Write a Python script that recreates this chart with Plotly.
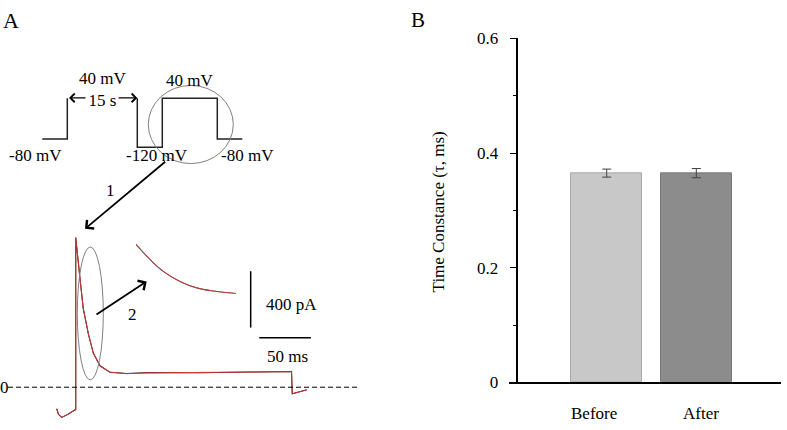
import plotly.graph_objects as go

W, H = 787, 430
FONT = "Liberation Serif"

# ---------------- Panel B data ----------------
conditions = ["Before", "After"]
tau_ms = [0.365, 0.365]
tau_sem = [0.007, 0.008]
bar_fill = ["#c8c8c8", "#8c8c8c"]
bar_edge = ["#a8a8a8", "#7a7a7a"]

# ---------------- Panel A data ----------------
# voltage protocol (schematic): time in schematic units, level: 0=-80 mV, 1=+40 mV, -0.2=-120 mV
protocol_t = [0, 1, 1, None, 3.8, 3.8, 4.8, 4.8, 7, 7, 8]
protocol_level = [0, 0, 1, None, 1, -0.2, -0.2, 1, 1, 0, 0]

# current traces (ms, pA)
trace_t = [0, 1.7, 4.8, 10.9, 17.7, 18.4, 18.4, 19.6, 20.6, 22.5, 25.7, 30.6, 35.4,
           41.9, 51.5, 67.7, 90.2, 138.7, 187.0, 227.1, 227.8, 229.5, 233.4, 241.8]
before_pa = [-153, -192, -214, -192, -160, -160, 1060, 988, 906, 771, 559, 378, 242,
             152, 106, 97, 104, 103, 108, 111, -47, -43, -33, -18]
after_pa = [-153, -192, -214, -192, -160, -160, 1062, 990, 904, 775, 555, 380, 240,
            150, 107, 96, 102, 104, 107, 110, -47, -44, -33, -19]

# magnified decay inset (relative time ms, current above steady state, pA)
inset_t = [0, 1.4, 2.73, 4.4, 6.07, 7.73, 10]
inset_pa = [523, 363, 237, 130, 63, 30, 3]


def px(x):
    return x / W


def py(y):
    return 1 - y / H


fig = go.Figure()

# Panel B bars
fig.add_trace(go.Bar(
    x=conditions, y=tau_ms, width=0.798,
    marker=dict(color=bar_fill, line=dict(color=bar_edge, width=1)),
    error_y=dict(type="data", array=tau_sem, visible=True, color="#404040",
                 thickness=1, width=4.5),
    xaxis="x", yaxis="y", showlegend=False, hoverinfo="skip"))

# Panel A protocol
fig.add_trace(go.Scatter(
    x=protocol_t, y=protocol_level, mode="lines",
    line=dict(color="#222222", width=1.5), connectgaps=False,
    xaxis="x3", yaxis="y3", showlegend=False, hoverinfo="skip"))

# Panel A current traces
fig.add_trace(go.Scatter(
    x=trace_t, y=before_pa, mode="lines", line=dict(color="#1a1a1a", width=1.1),
    xaxis="x2", yaxis="y2", showlegend=False, hoverinfo="skip"))
fig.add_trace(go.Scatter(
    x=trace_t, y=after_pa, mode="lines", line=dict(color="rgb(210,55,55)", width=1.0),
    xaxis="x2", yaxis="y2", showlegend=False, hoverinfo="skip"))

# Inset
fig.add_trace(go.Scatter(
    x=inset_t, y=inset_pa, mode="lines", line=dict(color="#555555", width=1.1, shape="spline"),
    xaxis="x4", yaxis="y4", showlegend=False, hoverinfo="skip"))
fig.add_trace(go.Scatter(
    x=inset_t, y=inset_pa, mode="lines", line=dict(color="rgb(210,55,55)", width=0.9, shape="spline"),
    xaxis="x4", yaxis="y4", showlegend=False, hoverinfo="skip"))

hidden = dict(visible=False, showgrid=False, zeroline=False, fixedrange=True)

# trace axis mapping (ms / pA)
T0_PX, ZERO_PX, PX_PER_MS, PX_PER_PA = 56.7, 395.7, 1.034, 0.1475
x2_range = [(0 - T0_PX) / PX_PER_MS, (400 - T0_PX) / PX_PER_MS]
y2_range = [(ZERO_PX - H) / PX_PER_PA, ZERO_PX / PX_PER_PA]
# protocol axis mapping
P0_PX, PU, L0_PX, LU = 42.3, 25.0, 136.0, 42.7
x3_range = [(0 - P0_PX) / PU, (400 - P0_PX) / PU]
y3_range = [(L0_PX - H) / LU, L0_PX / LU]

fig.update_layout(
    width=W, height=H, autosize=False,
    margin=dict(l=0, r=0, t=0, b=0),
    paper_bgcolor="white", plot_bgcolor="rgba(0,0,0,0)",
    font=dict(family=FONT, size=17, color="black"),
    bargap=0,
    xaxis=dict(domain=[px(509), px(781)], range=[-1.0904, 1.9453], anchor="y",
               showline=True, linecolor="black", linewidth=1.5, ticks="",
               showticklabels=False, showgrid=False, zeroline=False, fixedrange=True),
    yaxis=dict(domain=[py(390.7), py(30.7)], range=[0, 0.6], anchor="free",
               position=px(517.3), showline=True, linecolor="black", linewidth=1.5,
               ticks="outside", ticklen=7, tickwidth=1, tickcolor="black",
               tickmode="linear", tick0=0, dtick=0.2,
               minor=dict(dtick=0.1, ticks="outside", ticklen=4, tickwidth=1, tickcolor="black"),
               tickfont=dict(family=FONT, size=17), ticklabelstandoff=8,
               showgrid=False, zeroline=False, fixedrange=True),
    xaxis2=dict(domain=[0, px(400)], range=x2_range, anchor="y2", **hidden),
    yaxis2=dict(domain=[0, 1], range=y2_range, anchor="x2", **hidden),
    xaxis3=dict(domain=[0, px(400)], range=x3_range, anchor="y3", **hidden),
    yaxis3=dict(domain=[0, 1], range=y3_range, anchor="x3", **hidden),
    xaxis4=dict(domain=[px(136), px(236)], range=[0, 10], anchor="y4", **hidden),
    yaxis4=dict(domain=[py(298), py(245.5)], range=[0, 530], anchor="x4", **hidden),
)

shapes = []
# zero dashed line
shapes.append(dict(type="line", xref="x2", yref="y2",
                   x0=(8 - T0_PX) / PX_PER_MS, x1=(360 - T0_PX) / PX_PER_MS, y0=0, y1=0,
                   line=dict(color="black", width=1, dash="5px,3px")))
# scale bars
SB_T = 187.6
shapes.append(dict(type="line", xref="x2", yref="y2", x0=SB_T, x1=SB_T, y0=423, y1=823,
                   line=dict(color="black", width=1.5)))
shapes.append(dict(type="line", xref="x2", yref="y2", x0=195.9, x1=245.9, y0=350.5, y1=350.5,
                   line=dict(color="black", width=1.5)))
# circle & ellipse
shapes.append(dict(type="circle", xref="paper", yref="paper",
                   x0=px(148.3), x1=px(233.3), y0=py(161.7), y1=py(80),
                   line=dict(color="#808080", width=1)))
shapes.append(dict(type="circle", xref="paper", yref="paper",
                   x0=px(77.3), x1=px(103.3), y0=py(388), y1=py(249),
                   line=dict(color="#808080", width=1)))
fig.update_layout(shapes=shapes)

ann = []


def text(s, x, y, size=17, **kw):
    ann.append(dict(text=s, x=px(x), y=py(y), xref="paper", yref="paper",
                    showarrow=False, xanchor="center", yanchor="middle",
                    font=dict(family=FONT, size=size, color="black"), **kw))


def arrow(hx, hy, tx, ty, w=1.5, size=1.3):
    ann.append(dict(text="", x=px(hx), y=py(hy), xref="paper", yref="paper",
                    showarrow=True, ax=tx - hx, ay=ty - hy, arrowhead=4,
                    arrowsize=size, arrowwidth=w, arrowcolor="black"))


text("A", 11.3, 12.5, size=22)
text("B", 418.3, 11.7, size=21)
text("40 mV<br>15 s", 102.2, 84.5, borderpad=0)
text("40 mV", 189, 75)
text("-80 mV", 35.3, 153)
text("-120 mV", 157, 153)
text("-80 mV", 247, 153)
text("1", 110.8, 190)
text("2", 132.3, 320)
text("400 pA", 291.7, 309)
text("50 ms", 287.5, 364)
text("0", 4, 395.7)
text("Before", 594, 423.3)
text("After", 701.3, 423.3)
text("Time Constance (\u03c4, ms)", 438.3, 212.5, textangle=-90)

arrow(69, 93, 87, 93, w=1.2, size=1.4)
arrow(137.3, 93, 117, 93, w=1.2, size=1.4)
arrow(85, 230, 166.7, 161.7, w=1.8, size=1.2)
arrow(146.7, 285, 95, 319, w=1.8, size=1.2)

fig.update_layout(annotations=ann)
fig.write_html(
    "out.html",
    config={"displayModeBar": False},
    post_script="document.documentElement.style.margin='0';document.body.style.margin='0';"
                "document.body.style.overflow='hidden';",
)
